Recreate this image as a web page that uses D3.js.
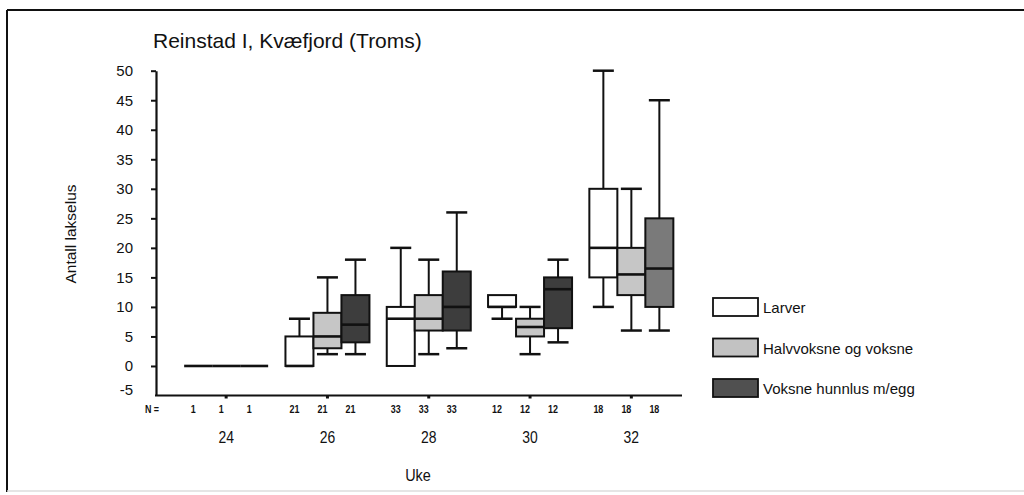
<!DOCTYPE html>
<html>
<head>
<meta charset="utf-8">
<script src="https://cdn.jsdelivr.net/npm/d3@7"></script>
<style>
  html, body { margin: 0; padding: 0; background: #fff; }
  svg { display: block; }
  text { font-family: "Liberation Sans", Arial, sans-serif; fill: #111; }
</style>
</head>
<body>
<svg id="chart" width="1024" height="495"></svg>
<script>
// Uke (week numbers) and sample sizes
const weeks = [24, 26, 28, 30, 32];
const seriesNames = ["Larver", "Halvvoksne og voksne", "Voksne hunnlus m/egg"];
const sampleN = [1, 21, 33, 12, 18];
const yTicks = [-5, 0, 5, 10, 15, 20, 25, 30, 35, 40, 45, 50];

// Box statistics per week: [min, q1, median, q3, max]
const larver = [
  [0, 0, 0, 0, 0],
  [0, 0, 0, 5, 8],
  [0, 0, 8, 10, 20],
  [8, 10, 10, 12, 12],
  [10, 15, 20, 30, 50]
];
const halvvoksne = [
  [0, 0, 0, 0, 0],
  [2, 3, 5, 9, 15],
  [2, 6, 8, 12, 18],
  [2, 5, 6.6, 8, 10],
  [6, 12, 15.5, 20, 30]
];
const voksneHunnlus = [
  [0, 0, 0, 0, 0],
  [2, 4, 7, 12, 18],
  [3, 6, 10, 16, 26],
  [4, 6.4, 13, 15, 18],
  [6, 10, 16.5, 25, 45]
];

const seriesValues = [larver, halvvoksne, voksneHunnlus];
const seriesFill = ["#ffffff", "#c6c6c6", "#3d3d3d"];
const legendFill = ["#ffffff", "#c2c2c2", "#505050"];

const svg = d3.select("#chart");

// outer frame
svg.append("line").attr("x1", 7).attr("y1", 10).attr("x2", 1024).attr("y2", 10)
  .attr("stroke", "#111").attr("stroke-width", 2);
svg.append("line").attr("x1", 7).attr("y1", 10).attr("x2", 7).attr("y2", 492)
  .attr("stroke", "#111").attr("stroke-width", 2);
svg.append("line").attr("x1", 7).attr("y1", 491).attr("x2", 1024).attr("y2", 491)
  .attr("stroke", "#ddd").attr("stroke-width", 1.5);

// title
svg.append("text").attr("x", 153).attr("y", 48)
  .attr("font-size", 21).text("Reinstad I, Kvæfjord (Troms)");

const x = d3.scaleBand().domain(weeks).range([175.5, 682]).padding(0);
const y = d3.scaleLinear().domain([-5, 50]).range([395.5, 70.7]);
const axisX0 = 156;
const boxW = 28;
const offsets = [-28, 0, 28];
const capW = 21;
const cx = w => x(w) + x.bandwidth() / 2;

// y axis
const yAxis = d3.axisLeft(y).tickValues(yTicks).tickFormat(d => String(d))
  .tickSize(5).tickSizeOuter(0).tickPadding(18);
const gy = svg.append("g").attr("transform", `translate(${axisX0},0)`).call(yAxis);
gy.attr("font-size", 15).attr("font-family", "Liberation Sans, Arial, sans-serif");
gy.select(".domain").attr("stroke", "#111").attr("stroke-width", 2.2);
gy.selectAll(".tick line").attr("stroke", "#111").attr("stroke-width", 2);
gy.selectAll(".tick text").attr("fill", "#111")
  .attr("dy", d => d === -5 ? "-0.1em" : "0.32em");
gy.selectAll(".tick").filter(d => d === -5).select("line").remove();

// x axis
svg.append("line").attr("x1", axisX0 - 1).attr("x2", x.range()[1])
  .attr("y1", y(-5)).attr("y2", y(-5)).attr("stroke", "#111").attr("stroke-width", 2.2);
const xAxis = d3.axisBottom(x).tickSize(3).tickSizeOuter(0).tickFormat("");
const gx = svg.append("g").attr("transform", `translate(0,${y(-5)})`).call(xAxis);
gx.select(".domain").remove();
gx.selectAll(".tick line").attr("stroke", "#111").attr("stroke-width", 3);

// week labels (condensed)
svg.append("g").selectAll("text").data(weeks).join("text")
  .attr("transform", d => `translate(${cx(d)},443) scale(0.82,1)`)
  .attr("text-anchor", "middle").attr("font-size", 17)
  .text(d => d);

// N = row
svg.append("text")
  .attr("transform", `translate(152,413) scale(0.85,1)`)
  .attr("text-anchor", "middle").attr("font-size", 10.5).attr("font-weight", "bold").text("N =");
const nRows = [];
weeks.forEach((w, i) => offsets.forEach(o => nRows.push({ w, o, n: sampleN[i] })));
svg.append("g").selectAll("text").data(nRows).join("text")
  .attr("transform", d => `translate(${cx(d.w) + d.o - 5},413) scale(0.85,1)`)
  .attr("text-anchor", "middle").attr("font-size", 10.5).attr("font-weight", "bold")
  .text(d => d.n);

// axis titles
svg.append("text").attr("transform", `translate(76,234) rotate(-90)`)
  .attr("text-anchor", "middle").attr("font-size", 15.5).text("Antall lakselus");
svg.append("text").attr("transform", `translate(418,481) scale(0.85,1)`)
  .attr("text-anchor", "middle").attr("font-size", 17).text("Uke");

// boxes
const boxes = [];
seriesValues.forEach((vals, s) => {
  vals.forEach((v, i) => {
    const fill = (s === 2 && weeks[i] === 32) ? "#7a7a7a" : seriesFill[s];
    boxes.push({ s, w: weeks[i], min: v[0], q1: v[1], med: v[2], q3: v[3], max: v[4], fill });
  });
});

const gb = svg.append("g");
const box = gb.selectAll("g").data(boxes).join("g")
  .attr("transform", d => `translate(${cx(d.w) + offsets[d.s]},0)`);

// whiskers
box.filter(d => d.max > d.q3).append("line")
  .attr("x1", 0).attr("x2", 0).attr("y1", d => y(d.q3)).attr("y2", d => y(d.max))
  .attr("stroke", "#111").attr("stroke-width", 2);
box.filter(d => d.max > d.q3).append("line")
  .attr("x1", -capW / 2).attr("x2", capW / 2).attr("y1", d => y(d.max)).attr("y2", d => y(d.max))
  .attr("stroke", "#111").attr("stroke-width", 2.5);
box.filter(d => d.min < d.q1).append("line")
  .attr("x1", 0).attr("x2", 0).attr("y1", d => y(d.q1)).attr("y2", d => y(d.min))
  .attr("stroke", "#111").attr("stroke-width", 2);
box.filter(d => d.min < d.q1).append("line")
  .attr("x1", -capW / 2).attr("x2", capW / 2).attr("y1", d => y(d.min)).attr("y2", d => y(d.min))
  .attr("stroke", "#111").attr("stroke-width", 2.5);

// box body
box.append("rect")
  .attr("x", -boxW / 2).attr("width", boxW)
  .attr("y", d => y(d.q3)).attr("height", d => y(d.q1) - y(d.q3))
  .attr("fill", d => d.fill).attr("stroke", "#111").attr("stroke-width", 2);

// median
box.append("line")
  .attr("x1", -boxW / 2).attr("x2", boxW / 2)
  .attr("y1", d => y(d.med)).attr("y2", d => y(d.med))
  .attr("stroke", "#111").attr("stroke-width", 2.6);

// legend
const lg = svg.append("g").selectAll("g").data(seriesNames).join("g")
  .attr("transform", (d, i) => `translate(713,${298 + i * 40.5})`);
lg.append("rect").attr("width", 45).attr("height", 18)
  .attr("fill", (d, i) => legendFill[i]).attr("stroke", "#111").attr("stroke-width", 1.8);
lg.append("text").attr("x", 50).attr("y", 15).attr("font-size", 15).text(d => d);
</script>
</body>
</html>
